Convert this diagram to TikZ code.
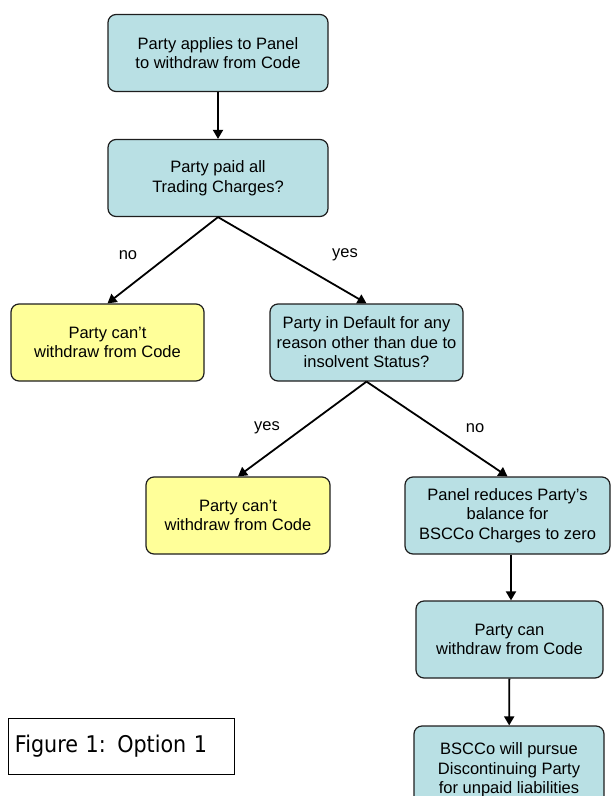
\documentclass[tikz,border=0pt]{standalone}
\usepackage{fontspec}
\setmainfont{Liberation Sans}
\newfontfamily\capfont{DejaVu Sans Condensed}
\usepackage{xcolor}
\usepackage{tikz}
\usetikzlibrary{arrows.meta,positioning,calc}
\definecolor{paleblue}{RGB}{185,224,228}
\definecolor{paleyellow}{RGB}{255,255,153}
\definecolor{edgegrey}{RGB}{30,30,30}

\begin{document}
\begin{tikzpicture}[x=1pt,y=-1pt,
    flowbox/.style={draw=edgegrey,line width=1.2pt,rounded corners=8pt,
        fill=paleblue,align=center,minimum height=77pt,inner sep=2pt,
        font=\fontsize{16.5}{19.5}\selectfont},
    stopbox/.style={flowbox,fill=paleyellow},
    flowarrow/.style={line width=1.8pt,-{Triangle[length=9pt,width=10pt]}},
    branchlabel/.style={font=\fontsize{16.5}{19}\selectfont}]
    \clip (0,0) rectangle (614,796);

    % Main line
    \node[flowbox,minimum width=220pt] (apply) at (218,53)
        {Party applies to Panel\\to withdraw from Code};
    \node[flowbox,minimum width=220pt] (paid) at (218,178)
        {Party paid all\\Trading Charges?};

    % First decision
    \node[stopbox,minimum width=193pt] (refuseA) at (107.5,342.5)
        {Party can't\\withdraw from Code};
    \node[flowbox,minimum width=193pt] (default) at (366.5,342.5)
        {Party in Default for any\\reason other than due to\\insolvent Status?};

    % Second decision
    \node[stopbox,minimum width=184pt] (refuseB) at (238,515.5)
        {Party can't\\withdraw from Code};
    \node[flowbox,minimum width=205pt] (reduce) at (507.5,515.5)
        {Panel reduces Party's\\balance for\\BSCCo Charges to zero};
    \node[flowbox,minimum width=187pt] (allowed) at (509.5,639.5)
        {Party can\\withdraw from Code};
    \node[flowbox,minimum width=190pt,minimum height=88pt] (pursue) at (509,770)
        {BSCCo will pursue\\Discontinuing Party\\for unpaid liabilities};

    % Caption
    \node[draw=black,line width=1pt,minimum width=226pt,minimum height=56pt,
        text width=212pt,inner sep=7pt,align=left,
        font=\capfont\fontsize{23}{27}\selectfont] (caption) at (121,746)
        {Figure 1: Option 1};

    % Connectors
    \draw[flowarrow] (apply) -- (paid);
    \draw[flowarrow] (paid.south) -- (refuseA.north);
    \draw[flowarrow] (paid.south) -- (default.north);
    \draw[flowarrow] (default.south) -- (refuseB.north);
    \draw[flowarrow] (default.south) -- (reduce.north);
    \draw[flowarrow] ([xshift=3.5pt]reduce.south) -- ([xshift=1.5pt]allowed.north);
    \draw[flowarrow] (allowed) -- (pursue);

    % Branch labels
    \node[branchlabel] (noA) at (128,255) {no};
    \node[branchlabel] (yesA) at (345,255) {yes};
    \node[branchlabel] (yesB) at (267,428) {yes};
    \node[branchlabel] (noB) at (475,428) {no};
\end{tikzpicture}
\end{document}
